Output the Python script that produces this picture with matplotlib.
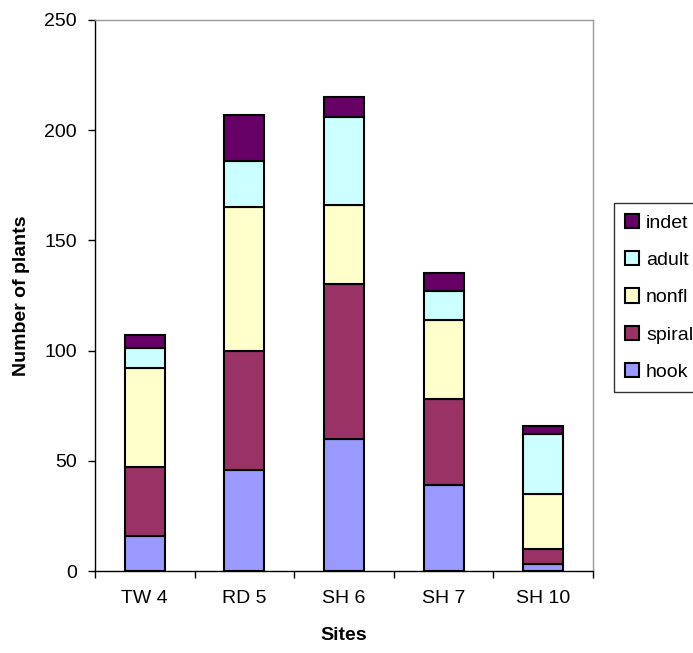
import matplotlib
matplotlib.use("Agg")
import matplotlib.pyplot as plt
import numpy as np

plt.rcParams['font.family'] = ['Liberation Sans', 'DejaVu Sans']

sites = ["TW 4", "RD 5", "SH 6", "SH 7", "SH 10"]
hook = [16, 46, 60, 39, 3]
spiral = [31, 54, 70, 39, 7]
nonfl = [45, 65, 36, 36, 25]
adult = [9, 21, 40, 13, 27]
indet = [6, 21, 9, 8, 4]

series = [("hook", hook, "#9999FF"), ("spiral", spiral, "#993366"),
          ("nonfl", nonfl, "#FFFFCC"), ("adult", adult, "#CCFFFF"),
          ("indet", indet, "#660066")]

fs = 14

fig = plt.figure(figsize=(6.93, 6.53), dpi=100)
ax = fig.add_axes([95/693, 82/653, (593-95)/693, (571-20)/653])

x = np.arange(len(sites))
bottom = np.zeros(len(sites))
handles = []
for name, vals, col in series:
    b = ax.bar(x, vals, width=0.4, bottom=bottom, color=col, edgecolor="black",
               linewidth=1.5, label=name)
    handles.append(b)
    bottom += np.array(vals)

ax.set_xlim(-0.5, len(sites) - 0.5)
ax.set_ylim(0, 250)
ax.set_yticks([0, 50, 100, 150, 200, 250])
ax.set_xticks(x)
ax.set_xticklabels(sites)
ax.tick_params(axis='x', length=0, labelsize=fs, pad=14)
ax.set_xticks(np.arange(-0.5, len(sites)), minor=True)
ax.tick_params(axis='x', which='minor', length=5, direction='out', width=1)
ax.tick_params(axis='y', length=5, direction='out', labelsize=fs, width=1, pad=8)

for s in ['left', 'bottom']:
    ax.spines[s].set_color('black')
    ax.spines[s].set_linewidth(1)
for s in ['right', 'top']:
    ax.spines[s].set_color('#999999')
    ax.spines[s].set_linewidth(1)

ax.set_ylabel("Number of plants", fontsize=fs, fontweight='bold', labelpad=10)
ax.set_xlabel("Sites", fontsize=fs, fontweight='bold', labelpad=14)

leg = fig.legend(handles[::-1], [s[0] for s in series][::-1],
                 loc='upper left', bbox_to_anchor=(614/693, 1 - 203/653),
                 fontsize=fs, frameon=True, fancybox=False, edgecolor='black',
                 handlelength=0.75, handleheight=0.75, handletextpad=0.35,
                 labelspacing=1.0, borderpad=0.55, borderaxespad=0)
leg.get_frame().set_linewidth(1)

fig.savefig("out.png", dpi=100)
